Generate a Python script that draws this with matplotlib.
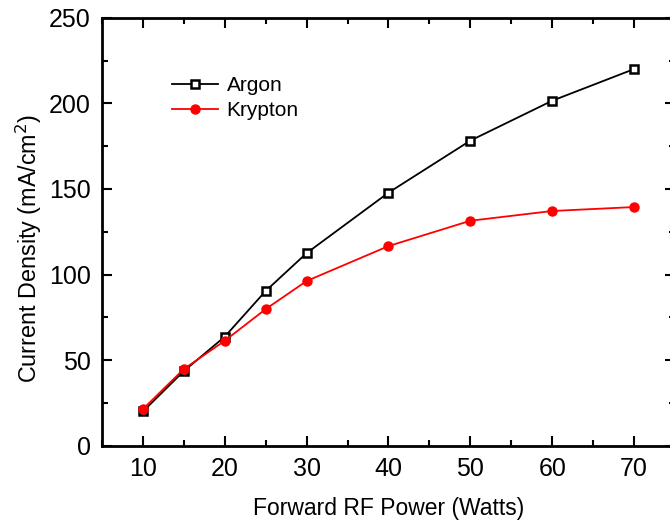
import matplotlib.pyplot as plt
from matplotlib.ticker import MultipleLocator

plt.rcParams["font.family"] = ["Liberation Sans", "DejaVu Sans"]

power = [10, 15, 20, 25, 30, 40, 50, 60, 70]
argon = [20, 43.6, 63.7, 90.4, 112.5, 147.8, 178.2, 201.5, 220.0]
krypton = [21.4, 44.8, 61.3, 79.8, 96.2, 116.6, 131.4, 137.1, 139.4]

fig = plt.figure(figsize=(6.7, 5.23), dpi=100)
# right edge of the frame runs a bit past the image, like the reference
ax = fig.add_axes([102 / 670, 1 - 445.7 / 523, 573 / 670, 428 / 523])

ax.plot(power, argon, color="black", linewidth=1.3, marker="s", markersize=6,
        markerfacecolor="white", markeredgecolor="black", markeredgewidth=1.8,
        label="Argon")
ax.plot(power, krypton, color="red", linewidth=1.3, marker="o", markersize=6.5,
        markerfacecolor="red", markeredgecolor="red", label="Krypton")

ax.set_xlim(5, 75)
ax.set_ylim(0, 250)
ax.xaxis.set_major_locator(MultipleLocator(10))
ax.xaxis.set_minor_locator(MultipleLocator(5))
ax.yaxis.set_major_locator(MultipleLocator(50))
ax.yaxis.set_minor_locator(MultipleLocator(25))
ax.tick_params(which="both", direction="in", top=True, right=True, width=1.5,
               labelsize=18, pad=8)
ax.tick_params(which="major", length=7)
ax.tick_params(which="minor", length=4)
for spine in ax.spines.values():
    spine.set_linewidth(2)

ax.set_xlabel("Forward RF Power (Watts)", fontsize=16.5, labelpad=12)
ax.set_ylabel("Current Density (mA/cm$^2$)", fontsize=16.8)
ax.yaxis.set_label_coords(-0.101, 0.46)

ax.legend(loc="upper left", bbox_to_anchor=(0.09, 0.908), frameon=False,
          fontsize=15, handlelength=2.2, handletextpad=0.4, labelspacing=0.3)

fig.savefig("out.png", dpi=100)
